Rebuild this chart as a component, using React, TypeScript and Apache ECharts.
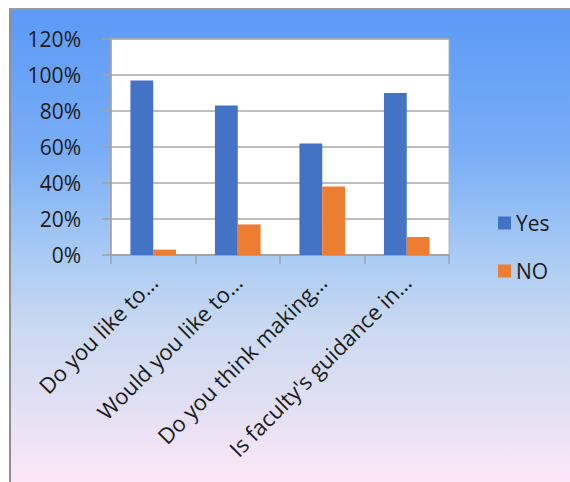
import React, { useEffect, useRef } from "react";
import * as echarts from "echarts";

const categories = [
  "Do you like to…",
  "Would you like to…",
  "Do you think making…",
  "Is faculty's guidance in…",
];
const yesValues = [0.97, 0.83, 0.62, 0.9];
const noValues = [0.03, 0.17, 0.38, 0.1];
const seriesNames = ["Yes", "NO"];

const FONT = "'Open Sans', sans-serif";

export default function App() {
  const ref = useRef<HTMLDivElement>(null);
  useEffect(() => {
    if (!ref.current) return;
    const chart = echarts.init(ref.current, null, { renderer: "svg" });
    chart.setOption({
      animation: false,
      textStyle: { fontFamily: FONT },
      grid: { left: 111, top: 39, right: 121, bottom: 227, containLabel: false, show: true, borderColor: "#b5b5b5", borderWidth: 1, backgroundColor: "#ffffff" },
      legend: {
        orient: "vertical",
        left: 493,
        top: 207,
        itemWidth: 13,
        itemHeight: 13,
        itemGap: 26,
        icon: "rect",
        textStyle: { fontSize: 21, lineHeight: 22, color: "#1a1a1a", fontFamily: FONT },
        data: seriesNames,
      },
      xAxis: {
        type: "category",
        data: categories,
        axisLine: { show: true, lineStyle: { color: "#a0a0a0", width: 1.5 } },
        axisTick: { show: true, length: 9, lineStyle: { color: "#a0a0a0", width: 1.5 } },
        axisLabel: { rotate: 45, fontSize: 22, color: "#1a1a1a", margin: 23, fontFamily: FONT, interval: 0 },
      },
      yAxis: {
        type: "value",
        min: 0,
        max: 1.2,
        interval: 0.2,
        axisLine: { show: true, lineStyle: { color: "#a0a0a0", width: 1.5 } },
        axisTick: { show: true, length: 9, lineStyle: { color: "#a0a0a0", width: 1.5 } },
        splitLine: { show: true, lineStyle: { color: "#a8a8a8", width: 1.5 } },
        axisLabel: {
          fontSize: 21,
          color: "#1a1a1a",
          margin: 30,
          fontFamily: FONT,
          formatter: (v: number) => Math.round(v * 100) + "%",
        },
      },
      series: [
        { name: seriesNames[0], type: "bar", data: yesValues, itemStyle: { color: "#4472C4" }, barGap: "0%", barCategoryGap: "46%" },
        { name: seriesNames[1], type: "bar", data: noValues, itemStyle: { color: "#ED7D31" }, barGap: "0%", barCategoryGap: "46%" },
      ],
    });
    return () => chart.dispose();
  }, []);
  return (
    <div style={{ position: "fixed", left: 0, top: 0, width: 570, height: 482, background: "#fff" }}>
      <div
        style={{
          position: "absolute",
          left: 9,
          top: 8,
          width: 561,
          height: 474,
          boxSizing: "border-box",
          borderLeft: "2px solid #8f8f8f",
          borderTop: "2px solid #9a9a9a",
          background:
            "linear-gradient(to bottom, #5c9af6 0%, #79adf6 30%, #a9cbf4 52%, #cbd9f1 68%, #e4e0f4 85%, #fce7f8 100%)",
        }}
      />
      <div ref={ref} style={{ position: "absolute", left: 0, top: 0, width: 570, height: 482 }} />
    </div>
  );
}
